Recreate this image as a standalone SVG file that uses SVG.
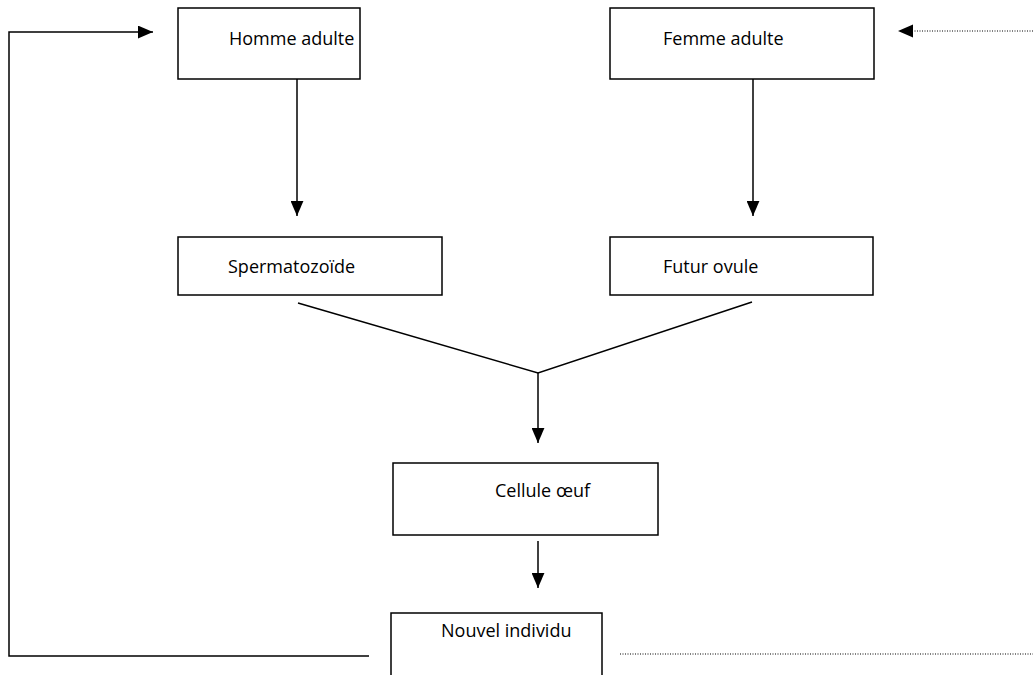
<svg xmlns="http://www.w3.org/2000/svg" width="1033" height="675" viewBox="0 0 1033 675">
<style>
.box{fill:#fff;stroke:#000;stroke-width:1.5}
.lbl{font-family:"Open Sans","Liberation Sans",sans-serif;font-size:18px;fill:#000}
.ln{fill:none;stroke:#000;stroke-width:1.5}
.dot{fill:none;stroke:#000;stroke-width:1;stroke-dasharray:1 1.5}
</style>
<defs>
<marker id="ah" viewBox="0 0 14 12" refX="14" refY="6" markerWidth="15" markerHeight="13" markerUnits="userSpaceOnUse" orient="auto">
<path d="M0,0 L14,6 L0,12 Z" fill="#000"/>
</marker>
</defs>
<g id="connectors">
<line class="ln" x1="297" y1="79" x2="297" y2="216" marker-end="url(#ah)"/>
<line class="ln" x1="753" y1="79" x2="753" y2="216" marker-end="url(#ah)"/>
<polyline class="ln" points="298,303 538,373 752,302"/>
<line class="ln" x1="538" y1="373" x2="538" y2="443" marker-end="url(#ah)"/>
<line class="ln" x1="538" y1="541" x2="538" y2="588" marker-end="url(#ah)"/>
<polyline class="ln" points="369,656 9,656 9,32 153,32" marker-end="url(#ah)"/>
<line class="dot" x1="1033" y1="31" x2="912" y2="31"/>
<path d="M913,24.5 L898,31 L913,37.5 Z" fill="#000"/>
<line class="dot" x1="620" y1="654" x2="1033" y2="654"/>
</g>
<g id="homme">
<rect class="box" x="178" y="8" width="182" height="71"/>
<text class="lbl" x="229" y="45">Homme adulte</text>
</g>
<g id="femme">
<rect class="box" x="610" y="8" width="264" height="71"/>
<text class="lbl" x="663" y="45">Femme adulte</text>
</g>
<g id="sperm">
<rect class="box" x="178" y="237" width="264" height="58"/>
<text class="lbl" x="228" y="273">Spermatozoïde</text>
</g>
<g id="ovule">
<rect class="box" x="610" y="237" width="263" height="58"/>
<text class="lbl" x="663" y="273">Futur ovule</text>
</g>
<g id="oeuf">
<rect class="box" x="393" y="463" width="265" height="72"/>
<text class="lbl" x="495" y="497">Cellule œuf</text>
</g>
<g id="individu">
<rect class="box" x="391" y="613" width="211" height="80"/>
<text class="lbl" x="441" y="637">Nouvel individu</text>
</g>
</svg>
